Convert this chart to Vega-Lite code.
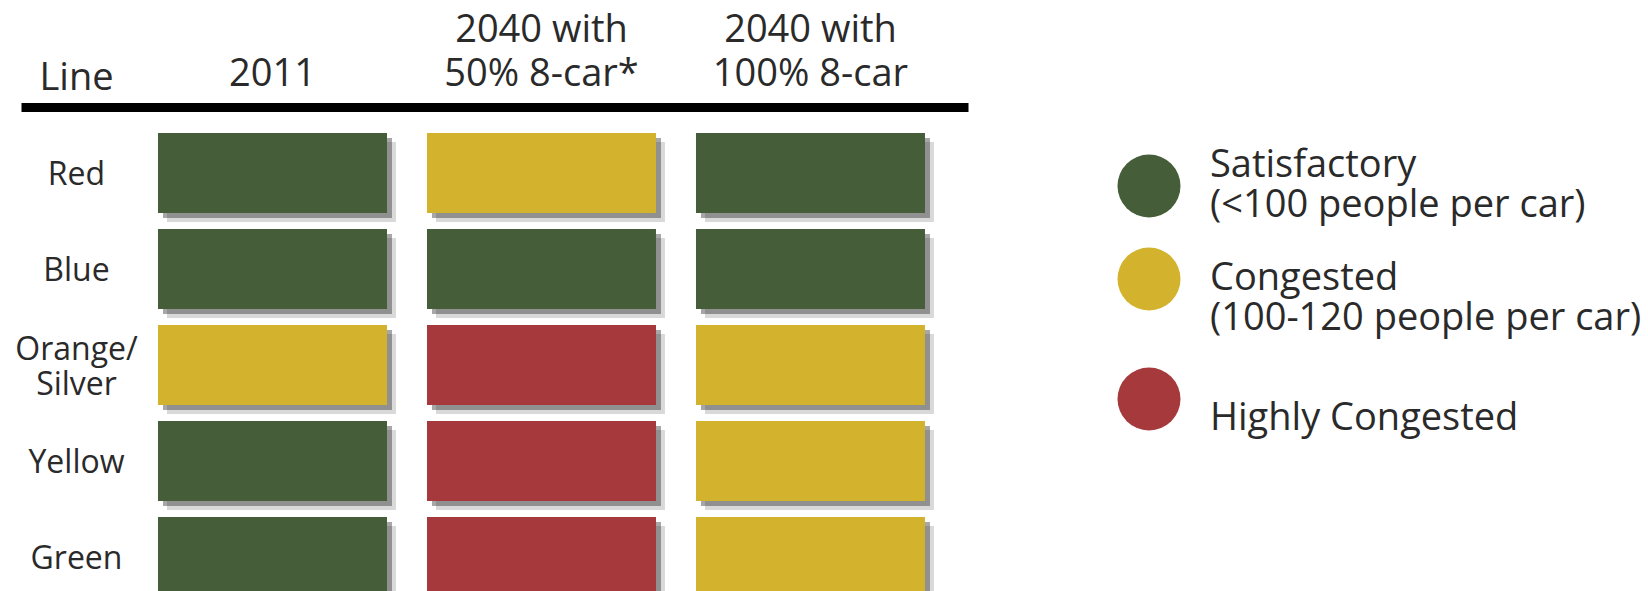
{
  "$schema": "https://vega.github.io/schema/vega-lite/v6.json",
  "width": 947,
  "height": 484,
  "autosize": {"type": "none"},
  "padding": {"left": 21, "top": 107, "right": 680, "bottom": 0},
  "background": "white",
  "config": {"view": {"stroke": null}, "font": "Open Sans"},
  "data": {
    "values": [
      {"line": "Red", "scenario": "2011", "status": "Satisfactory"},
      {"line": "Red", "scenario": "2040 with 50% 8-car*", "status": "Congested"},
      {"line": "Red", "scenario": "2040 with 100% 8-car", "status": "Satisfactory"},
      {"line": "Blue", "scenario": "2011", "status": "Satisfactory"},
      {"line": "Blue", "scenario": "2040 with 50% 8-car*", "status": "Satisfactory"},
      {"line": "Blue", "scenario": "2040 with 100% 8-car", "status": "Satisfactory"},
      {"line": "Orange/Silver", "scenario": "2011", "status": "Congested"},
      {"line": "Orange/Silver", "scenario": "2040 with 50% 8-car*", "status": "Highly Congested"},
      {"line": "Orange/Silver", "scenario": "2040 with 100% 8-car", "status": "Congested"},
      {"line": "Yellow", "scenario": "2011", "status": "Satisfactory"},
      {"line": "Yellow", "scenario": "2040 with 50% 8-car*", "status": "Highly Congested"},
      {"line": "Yellow", "scenario": "2040 with 100% 8-car", "status": "Congested"},
      {"line": "Green", "scenario": "2011", "status": "Satisfactory"},
      {"line": "Green", "scenario": "2040 with 50% 8-car*", "status": "Highly Congested"},
      {"line": "Green", "scenario": "2040 with 100% 8-car", "status": "Congested"}
    ]
  },
  "encoding": {
    "x": {
      "field": "scenario",
      "type": "nominal",
      "sort": ["2011", "2040 with 50% 8-car*", "2040 with 100% 8-car"],
      "scale": {"paddingInner": 0.1487, "paddingOuter": 0.3346, "align": 0.761},
      "axis": {
        "orient": "top",
        "title": null,
        "domain": true,
        "domainColor": "#000000",
        "domainWidth": 9,
        "ticks": false,
        "tickSize": 0,
        "labelPadding": 66,
        "labelBaseline": "alphabetic",
        "labelAngle": 0,
        "labelFontSize": 38,
        "labelLimit": 0,
        "labelColor": "#2a2a2a",
        "labelLineHeight": 44,
        "labelExpr": "datum.value == '2011' ? ['', '2011'] : [slice(datum.value, 0, 9), slice(datum.value, 10)]"
      }
    },
    "y": {
      "field": "line",
      "type": "nominal",
      "sort": ["Red", "Blue", "Orange/Silver", "Yellow", "Green"],
      "scale": {"range": [0, 516], "paddingInner": 0.1667, "paddingOuter": 0.2708},
      "axis": {
        "title": "Line",
        "titleAngle": 0,
        "titleX": 55,
        "titleY": -18,
        "titleAlign": "center",
        "titleBaseline": "alphabetic",
        "titleFontSize": 38,
        "titleFontWeight": "normal",
        "titleColor": "#2a2a2a",
        "domain": false,
        "ticks": false,
        "tickSize": 0,
        "labelPadding": -55,
        "labelAlign": "center",
        "labelBaseline": "middle",
        "labelFontSize": 32,
        "labelLineHeight": 35,
        "labelLimit": 0,
        "labelColor": "#2a2a2a",
        "labelOffset": {"condition": {"test": "datum.value == 'Orange/Silver'", "value": -15}, "value": 2},
        "labelExpr": "datum.value == 'Orange/Silver' ? ['Orange/', 'Silver'] : datum.value"
      }
    }
  },
  "layer": [
    {"mark": {"type": "rect", "fill": "#000000", "opacity": 0.15, "xOffset": 9, "yOffset": 9}},
    {"mark": {"type": "rect", "fill": "#222222", "opacity": 0.4, "xOffset": 5, "yOffset": 5}},
    {
      "mark": {"type": "rect"},
      "encoding": {
        "color": {
          "field": "status",
          "type": "nominal",
          "scale": {
            "domain": ["Satisfactory", "Congested", "Highly Congested"],
            "range": ["#465d39", "#d3b22d", "#a5393b"]
          },
          "legend": {
            "orient": "none",
            "legendX": 1096,
            "legendY": 47,
            "title": null,
            "padding": 0,
            "symbolType": "circle",
            "symbolSize": 3970,
            "symbolStrokeWidth": 0,
            "symbolOpacity": 1,
            "symbolOffset": 0,
            "labelFontSize": 38,
            "labelLineHeight": 37,
            "labelBaseline": {"expr": "datum.value == 'Congested' ? 'middle' : 'line-bottom'"},
            "labelOffset": 29,
            "labelLimit": 0,
            "labelColor": "#2a2a2a",
            "rowPadding": 22,
            "labelExpr": "datum.value == 'Satisfactory' ? ['Satisfactory', '(<100 people per car)'] : datum.value == 'Congested' ? ['Congested', '(100-120 people per car)'] : ['', 'Highly Congested']"
          }
        }
      }
    }
  ]
}
